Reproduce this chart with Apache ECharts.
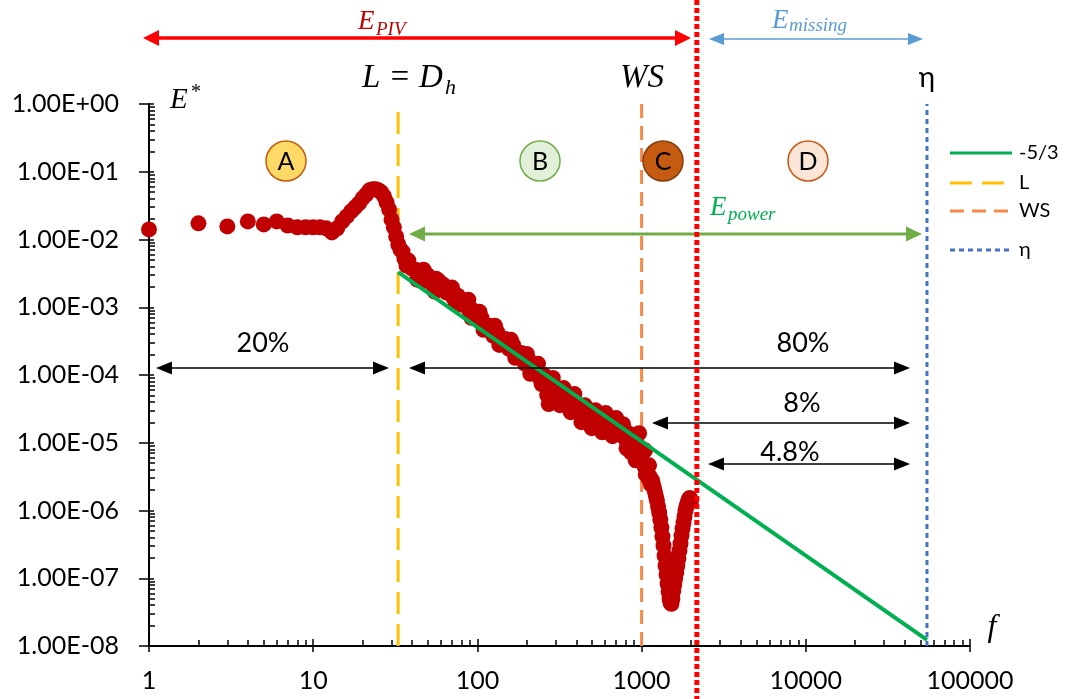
<!DOCTYPE html>
<html><head><meta charset="utf-8">
<script src="https://cdn.jsdelivr.net/npm/echarts@6/dist/echarts.min.js"></script>
<style>html,body{margin:0;padding:0;background:#fff}#c{width:1072px;height:699px}</style>
</head><body><div id="c"></div>
<script>
// ---- data ----
const freq = [1,2,3,4,5,6,7,8,9,10,11,12,13,14,15,16,17,18,19,20,21,22,23,24,25,26,27,28,29,30,31,32,
  33,34,35,36,37,38,40,42,43,44,46,47,48,50,53,55,56,58,59,62,65,68,70,72,74,76,80,85,88,90,92,95,100,103,106,109,112,118,125,128,132,136,140,148,156,160,165,170,175,185,195,200,205,210,216,228,234,240,246,253,266,272,280,288,295,310,318,326,335,343,360,370,380,390,400,420,430,440,450,462,485,497,510,522,535,560,575,590,605,620,650,665,680,700,715,750,770,790,810,830,860,870,890,910,920,950,965,980,1000,1020,1040,1050,1060,1080,1100,1110,1120,1140,1160,1180,1200,1220,1240,1260,1280,1300,1320,1340,1360,1380,1400,1420,1440,1460,1480,1500,1520,1540,1560,1580,1600,1625,1650,1675,1700,1725,1750,1775,1800,1825,1850,1875,1900,1925,1950,1975,2000];
const energy = [1.41e-2,1.73e-2,1.56e-2,1.85e-2,1.67e-2,1.85e-2,1.61e-2,1.51e-2,1.51e-2,1.51e-2,1.51e-2,1.46e-2,1.27e-2,1.46e-2,1.85e-2,2.19e-2,2.60e-2,2.98e-2,3.41e-2,4.05e-2,4.60e-2,5.32e-2,5.50e-2,5.50e-2,5.32e-2,4.97e-2,4.34e-2,3.53e-2,2.78e-2,1.98e-2,1.51e-2,1.11e-2,
  8.43e-3,7.11e-3,6.64e-3,5.23e-3,4.12e-3,4.89e-3,3.72e-3,3.59e-3,2.55e-3,2.83e-3,3.25e-3,3.59e-3,2.47e-3,2.93e-3,2.23e-3,1.70e-3,2.64e-3,2.47e-3,1.88e-3,2.15e-3,1.64e-3,1.88e-3,1.95e-3,1.34e-3,1.09e-3,1.48e-3,1.09e-3,1.17e-3,1.29e-3,8.29e-4,6.99e-4,8.87e-4,6.53e-4,8.57e-4,6.99e-4,4.64e-4,4.97e-4,5.32e-4,3.78e-4,5.32e-4,4.34e-4,2.78e-4,2.88e-4,3.41e-4,2.43e-4,3.30e-4,2.78e-4,1.79e-4,1.91e-4,2.12e-4,1.46e-4,2.05e-4,1.67e-4,1.04e-4,1.15e-4,1.36e-4,1.46e-4,9.03e-5,7.36e-5,1.0e-4,5.06e-5,3.72e-5,6.87e-5,9.03e-5,5.41e-5,6.21e-5,3.59e-5,4.26e-5,6.42e-5,4.72e-5,3.59e-5,2.83e-5,4.12e-5,5.23e-5,2.93e-5,3.36e-5,2.01e-5,2.47e-5,3.59e-5,3.03e-5,2.15e-5,1.64e-5,2.64e-5,3.03e-5,1.88e-5,2.39e-5,1.43e-5,1.70e-5,2.74e-5,2.15e-5,1.64e-5,1.25e-5,1.88e-5,2.31e-5,1.43e-5,1.70e-5,1.88e-5,1.17e-5,8.29e-6,1.38e-5,7.23e-6,9.18e-6,1.25e-5,1.05e-5,5.51e-6,7.48e-6,1.38e-5,8.57e-6,6.31e-6,5.14e-6,4.49e-6,7.74e-6,3.41e-6,4.05e-6,2.98e-6,4.64e-6,3.19e-6,2.43e-6,2.78e-6,2.34e-6,1.98e-6,1.67e-6,1.41e-6,1.15e-6,9.33e-7,7.36e-7,5.60e-7,4.12e-7,3.03e-7,2.15e-7,1.53e-7,1.13e-7,8.29e-8,6.31e-8,4.97e-8,4.34e-8,4.19e-8,4.97e-8,6.53e-8,8.01e-8,9.84e-8,1.21e-7,1.53e-7,1.95e-7,2.55e-7,3.24e-7,4.26e-7,5.41e-7,6.64e-7,8.15e-7,1.0e-6,1.15e-6,1.27e-6,1.41e-6,1.51e-6,1.51e-6,1.41e-6];
const slopeF = [32.9, 54700];
const slopeE = [3.3e-3, 1.23e-8];
const limitNames = ['L', 'WS', 'η'];
const limitFreqs = [32.9, 1000, 54700];
const pivCutoff = 2170;
const xTicks = [1, 10, 100, 1000, 10000, 100000];
const yTicks = [1e-8, 1e-7, 1e-6, 1e-5, 1e-4, 1e-3, 1e-2, 1e-1, 1];
const legendNames = ['-5/3', 'L', 'WS', 'η'];

// ---- chart ----
const minorOf = (majors) => { const r = []; for (let i = 0; i < majors.length - 1; i++) for (let k = 2; k <= 9; k++) r.push(+(majors[i] * k).toPrecision(3)); return r; };
const yFmt = v => { const e = Math.round(Math.log10(v)); return '1.00E' + (e < 0 ? '-' : '+') + String(Math.abs(e)).padStart(2, '0'); };
const FONT = 'Lato';
const chart = echarts.init(document.getElementById('c'), null, { renderer: 'canvas' });

const baseX = { type: 'log', logBase: 10, min: 1, max: 100000, gridIndex: 0, position: 'bottom', splitLine: { show: false } };
const baseY = { type: 'log', logBase: 10, min: 1e-8, max: 1, gridIndex: 0, position: 'left', splitLine: { show: false } };
const blk = { color: '#000', width: 1.5 };

const styleColors = { '-5/3': '#00B050', 'L': '#FFC000', 'WS': '#F4894A', 'η': '#4472C4' };
const styleDash = { '-5/3': null, 'L': [22, 10], 'WS': [14, 8], 'η': [5, 4] };

const series = [];
limitNames.forEach((n, i) => {
  series.push({ name: n, type: 'line', symbol: 'none', xAxisIndex: 0, yAxisIndex: 0,
    data: [[limitFreqs[i], 1e-8], [limitFreqs[i], 1]],
    lineStyle: { color: styleColors[n], width: 3, type: styleDash[n] }, z: 2 });
});
series.push({ name: 'E', type: 'scatter', xAxisIndex: 0, yAxisIndex: 0, symbolSize: 16,
  data: freq.map((f, i) => [f, energy[i]]), itemStyle: { color: '#C00000', opacity: 1 }, z: 3 });
series.push({ name: '-5/3', type: 'line', symbol: 'none', xAxisIndex: 0, yAxisIndex: 0,
  data: slopeF.map((f, i) => [f, slopeE[i]]), lineStyle: { color: styleColors['-5/3'], width: 4 }, z: 4 });

chart.setOption({
  animation: false,
  grid: { left: 149, right: 102, top: 104, bottom: 53, containLabel: false },
  xAxis: [
    Object.assign({}, baseX, { axisLine: { show: true, onZero: false, lineStyle: { color: '#000', width: 2 } },
      axisTick: { show: true, inside: true, length: 7, customValues: xTicks, lineStyle: blk },
      axisLabel: { show: true, customValues: xTicks, formatter: v => String(Math.round(v)), fontFamily: FONT, fontSize: 25, color: '#000', margin: 22 } }),
    Object.assign({}, baseX, { axisLine: { show: false, onZero: false }, axisLabel: { show: false },
      axisTick: { show: true, inside: false, length: 6, customValues: xTicks, lineStyle: blk } }),
    Object.assign({}, baseX, { axisLine: { show: false, onZero: false }, axisLabel: { show: false },
      axisTick: { show: true, inside: true, length: 6, customValues: minorOf(xTicks), lineStyle: blk } })
  ],
  yAxis: [
    Object.assign({}, baseY, { axisLine: { show: true, onZero: false, lineStyle: { color: '#000', width: 2 } },
      axisTick: { show: true, inside: true, length: 5, customValues: yTicks, lineStyle: blk },
      axisLabel: { show: true, customValues: yTicks, formatter: yFmt, fontFamily: FONT, fontSize: 25, color: '#000', margin: 30 } }),
    Object.assign({}, baseY, { axisLine: { show: false, onZero: false }, axisLabel: { show: false },
      axisTick: { show: true, inside: false, length: 10, customValues: yTicks, lineStyle: blk } }),
    Object.assign({}, baseY, { axisLine: { show: false, onZero: false }, axisLabel: { show: false },
      axisTick: { show: true, inside: true, length: 6, customValues: minorOf(yTicks), lineStyle: blk } })
  ],
  series: series
});

// ---- annotations ----
const pivX = chart.convertToPixel({ xAxisIndex: 0 }, pivCutoff);
function arrow(x1, x2, y, color, lw, hl, hw) {
  return [
    { type: 'line', z: 20, shape: { x1: x1 + hl - 1, y1: y, x2: x2 - hl + 1, y2: y }, style: { stroke: color, lineWidth: lw } },
    { type: 'polygon', z: 20, shape: { points: [[x1, y], [x1 + hl, y - hw], [x1 + hl, y + hw]] }, style: { fill: color } },
    { type: 'polygon', z: 20, shape: { points: [[x2, y], [x2 - hl, y - hw], [x2 - hl, y + hw]] }, style: { fill: color } }
  ];
}
function t(x, y, s, font, color, align) {
  return { type: 'text', z: 20, x: x, y: y, style: { text: s, font: font, fill: color, align: align || 'left', verticalAlign: 'middle' } };
}
function circ(cx, cy, fill, stroke, letter) {
  return [
    { type: 'circle', z: 20, shape: { cx: cx, cy: cy, r: 20 }, style: { fill: fill, stroke: stroke, lineWidth: 1.5 } },
    t(cx, cy + 1, letter, '25px ' + FONT, '#000', 'center')
  ];
}
const SER = 'italic 27px "Liberation Serif"';
const SUB = 'italic 19px "Liberation Serif"';
let g = [];
g.push({ type: 'line', z: 25, shape: { x1: pivX, y1: 0, x2: pivX, y2: 699 }, style: { stroke: '#FF0000', lineWidth: 5, lineDash: [5, 3] } });
g = g.concat(arrow(143, 691, 38, '#FF0000', 3.5, 16, 8));
g.push(t(358, 22, 'E', SER, '#C00000'), t(376, 30, 'PIV', SUB, '#C00000'));
g = g.concat(arrow(709, 923, 39, '#5B9BD5', 1.5, 15, 6));
g.push(t(772, 21, 'E', SER, '#5B9BD5'), t(789, 26, 'missing', SUB, '#5B9BD5'));
g.push(t(362, 78, 'L = D', 'italic 33px "Liberation Serif"', '#000'), t(445, 88, 'h', 'italic 22px "Liberation Serif"', '#000'));
g.push(t(642, 78, 'WS', 'italic 33px "Liberation Serif"', '#000', 'center'));
g.push(t(927, 78, 'η', '28px ' + FONT, '#000', 'center'));
g.push(t(170, 100, 'E', 'italic 29px "Liberation Serif"', '#000'), t(191, 93, '*', '20px "Liberation Serif"', '#000'));
g.push(t(992, 628, 'f', 'italic 32px "Liberation Serif"', '#000', 'center'));
g = g.concat(circ(286, 161, '#FFD966', '#C55A11', 'A'));
g = g.concat(circ(540, 161, '#E2F0D9', '#70AD47', 'B'));
g = g.concat(circ(663, 161, '#C55A11', '#843C0C', 'C'));
g = g.concat(circ(808, 161, '#FBE5D6', '#C55A11', 'D'));
g = g.concat(arrow(409, 922, 234, '#70AD47', 3, 16, 7.5));
g.push(t(710, 208, 'E', SER, '#00B050'), t(728, 215, 'power', SUB, '#00B050'));
g = g.concat(arrow(156, 389, 368, '#000', 1.3, 16, 6.5));
g = g.concat(arrow(409, 910, 368, '#000', 1.3, 16, 6.5));
g = g.concat(arrow(652, 910, 423, '#000', 1.3, 16, 6.5));
g = g.concat(arrow(708, 910, 464, '#000', 1.3, 16, 6.5));
g.push(t(263, 343, '20%', '27px ' + FONT, '#000', 'center'));
g.push(t(803, 343, '80%', '27px ' + FONT, '#000', 'center'));
g.push(t(802, 403, '8%', '27px ' + FONT, '#000', 'center'));
g.push(t(790, 452, '4.8%', '27px ' + FONT, '#000', 'center'));
// legend
const legendY = [153, 183, 211, 250];
legendNames.forEach((n, i) => {
  const st = { stroke: styleColors[n], lineWidth: 3 };
  if (styleDash[n]) st.lineDash = styleDash[n];
  g.push({ type: 'line', z: 20, shape: { x1: 950, y1: legendY[i], x2: 1012, y2: legendY[i] }, style: st });
  g.push(t(1019, legendY[i], n, '20px ' + FONT, '#000'));
});
chart.setOption({ graphic: g });
</script></body></html>
